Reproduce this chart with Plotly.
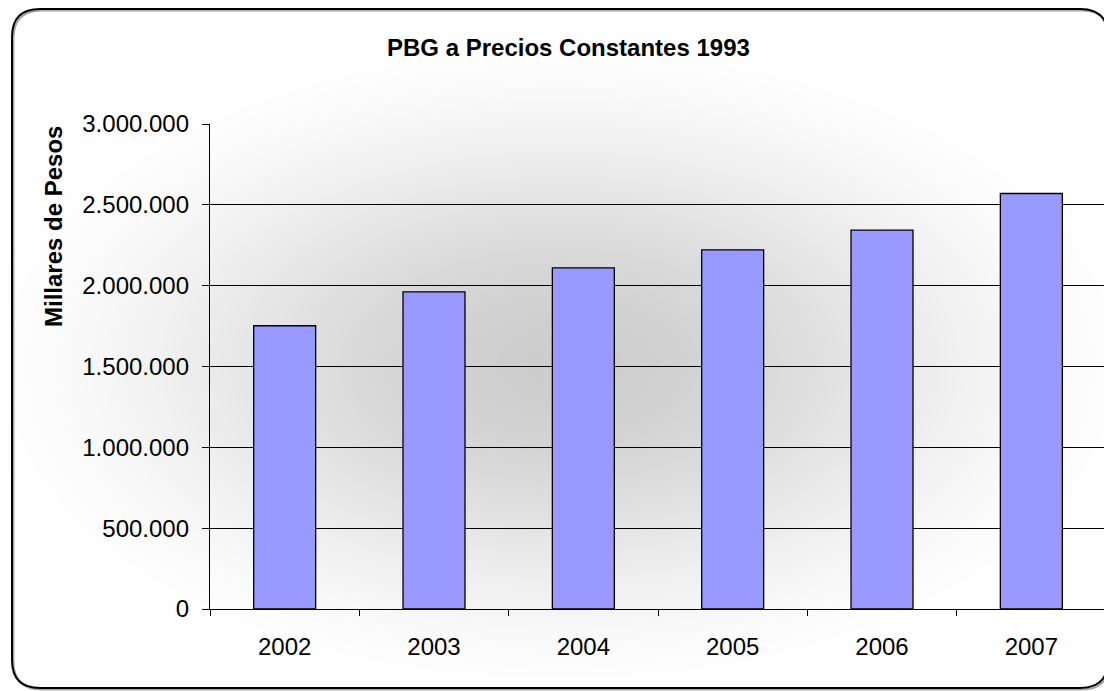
import plotly.graph_objects as go

years = ["2002", "2003", "2004", "2005", "2006", "2007"]
pbg = [1752000, 1962000, 2110000, 2222000, 2343000, 2570000]

title_text = "PBG a Precios Constantes 1993"
y_title = "Millares de Pesos"

# the page puts the figure 8px in from the top-left corner
OFF = 8
W, H = 1112 - OFF, 691 - OFF
L, R, T, B = 210, 1106, 124, 609


def px(x):
    return (x - L) / (R - L)


def py(y):
    return (B - y) / (B - T)


fig = go.Figure()
fig.add_trace(go.Bar(
    x=years, y=pbg,
    marker=dict(color="#9999FF", line=dict(color="black", width=1.3)),
    hoverinfo="x+y",
))


def inv_falloff(c):
    # radius fraction where 1 - smoothstep(f) == c
    lo, hi = 0.0, 1.0
    for _ in range(40):
        mid = (lo + hi) / 2
        g = 1 - (3 * mid ** 2 - 2 * mid ** 3)
        if g > c:
            lo = mid
        else:
            hi = mid
    return (lo + hi) / 2


shapes = []
# soft radial gray background, built from stacked translucent ellipses
cx, cy = 560, 365
n = 50
for i in range(n):
    s = inv_falloff((i + 0.5) / n)
    rx, ry = 620 * s, 350 * s
    shapes.append(dict(
        type="circle", xref="paper", yref="paper", layer="below",
        x0=px(cx - rx), x1=px(cx + rx), y0=py(cy + ry), y1=py(cy - ry),
        fillcolor="rgba(0,0,0,0.0055)", line=dict(width=0),
    ))

# rounded chart border
x0, x1, y0, y1, r = 12, 1108, 9, 688, 28


def rounded(x0, x1, y0, y1, r):
    pts = [
        f"M {px(x0 + r)},{py(y0)}",
        f"L {px(x1 - r)},{py(y0)}",
        f"Q {px(x1)},{py(y0)} {px(x1)},{py(y0 + r)}",
        f"L {px(x1)},{py(y1 - r)}",
        f"Q {px(x1)},{py(y1)} {px(x1 - r)},{py(y1)}",
        f"L {px(x0 + r)},{py(y1)}",
        f"Q {px(x0)},{py(y1)} {px(x0)},{py(y1 - r)}",
        f"L {px(x0)},{py(y0 + r)}",
        f"Q {px(x0)},{py(y0)} {px(x0 + r)},{py(y0)} Z",
    ]
    return " ".join(pts)


shapes.append(dict(
    type="path", xref="paper", yref="paper", layer="above",
    path=rounded(x0 + 1.5, x1 + 1.5, y0 + 1.5, y1 + 1.5, r),
    line=dict(color="rgba(0,0,0,0.35)", width=2),
))
shapes.append(dict(
    type="path", xref="paper", yref="paper", layer="above",
    path=rounded(x0, x1, y0, y1, r),
    line=dict(color="black", width=2),
))

font = "Liberation Sans, Arial, sans-serif"

fig.update_layout(
    width=W, height=H,
    margin=dict(l=L - OFF, r=1112 - R, t=T - OFF, b=691 - B),
    paper_bgcolor="white",
    plot_bgcolor="rgba(0,0,0,0)",
    font=dict(family=font, size=24, color="black"),
    separators=",.",
    showlegend=False,
    bargap=0.585,
    shapes=shapes,
    annotations=[
        dict(text=f"<b>{title_text}</b>", xref="paper", yref="paper",
             x=px(568), y=py(48), showarrow=False,
             font=dict(size=24), xanchor="center", yanchor="middle"),
        dict(text=f"<b>{y_title}</b>", xref="paper", yref="paper",
             x=px(53), y=py(227), showarrow=False, textangle=-90,
             font=dict(size=24), xanchor="center", yanchor="middle"),
    ],
)

fig.update_xaxes(
    type="category", showline=True, linecolor="black", linewidth=1.3,
    ticks="outside", tickson="boundaries", ticklen=6, tickcolor="black",
    tickwidth=1.3, showgrid=False, ticklabelstandoff=16,
)
fig.update_yaxes(
    range=[0, 3000000], dtick=500000, tickformat=",d",
    showline=True, linecolor="black", linewidth=1.3,
    ticks="outside", ticklen=7, tickcolor="black", tickwidth=1.3,
    showgrid=True, gridcolor="black", gridwidth=1.3, zeroline=False,
    ticklabelstandoff=8,
)

fig.write_html("out.html")
